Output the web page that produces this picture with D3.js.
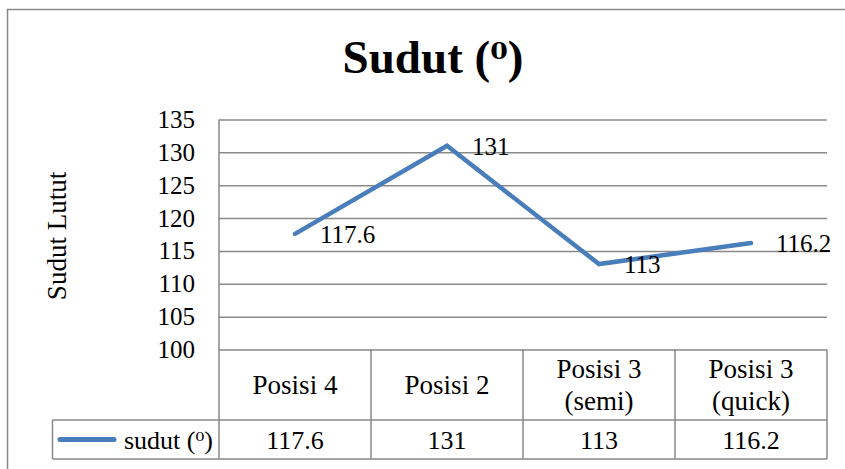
<!DOCTYPE html>
<html>
<head>
<meta charset="utf-8">
<script src="https://cdn.jsdelivr.net/npm/d3@7"></script>
<style>
  html, body { margin: 0; padding: 0; background: #fff; }
  svg text { font-family: "Liberation Serif", "Times New Roman", serif; fill: #000; }
  svg text tspan.sup { font-family: "DejaVu Serif", "Liberation Serif", serif; }
</style>
</head>
<body>
<svg id="chart" width="845" height="469"></svg>
<script>
// ---- data ----
const titleMain = "Sudut (";
const degreeSign = "\u2070";
const titleEnd = ")";
const yAxisTitle = "Sudut Lutut";
const seriesMain = "sudut (";
const categories = ["Posisi 4", "Posisi 2", "Posisi 3 (semi)", "Posisi 3 (quick)"];
const categoryLines = [["Posisi 4"], ["Posisi 2"], ["Posisi 3", "(semi)"], ["Posisi 3", "(quick)"]];
const values = [117.6, 131, 113, 116.2];
const valueLabels = ["117.6", "131", "113", "116.2"];
const yTicks = [100, 105, 110, 115, 120, 125, 130, 135];

// ---- layout ----
const svg = d3.select("#chart");
const plotLeft = 219, plotRight = 827, plotTop = 119.5, plotBottom = 349.5;
const headerBottom = 420, tableBottom = 459, legendLeft = 52.5;
const gridColor = "#898989";
const lineColor = "#4a7ebb";

const x = d3.scaleBand().domain(categories).range([plotLeft, plotRight]);
const y = d3.scaleLinear().domain([100, 135]).range([plotBottom, plotTop]);

// outer border
svg.append("rect")
  .attr("x", 7.5).attr("y", 9.5).attr("width", 845).attr("height", 470)
  .attr("fill", "none").attr("stroke", gridColor).attr("stroke-width", 1.5);

// title
const tTitle = svg.append("text")
  .attr("x", 433).attr("y", 73)
  .attr("text-anchor", "middle")
  .attr("font-size", 47).attr("font-weight", "bold");
tTitle.append("tspan").text(titleMain);
tTitle.append("tspan").attr("class", "sup").attr("font-size", 40).attr("dy", -1).text(degreeSign);
tTitle.append("tspan").attr("dy", 1).text(titleEnd);

// y axis title
svg.append("text")
  .attr("transform", "translate(57,236) rotate(-90)")
  .attr("text-anchor", "middle")
  .attr("dominant-baseline", "central")
  .attr("font-size", 27)
  .text(yAxisTitle);

// y axis with gridlines
const yAxis = d3.axisLeft(y).tickValues(yTicks).tickSize(-(plotRight - plotLeft)).tickPadding(24).tickFormat(d3.format("d"));
const gAxis = svg.append("g").attr("transform", `translate(${plotLeft},0)`).call(yAxis);
gAxis.select(".domain").remove();
gAxis.selectAll(".tick line").attr("stroke", gridColor).attr("stroke-width", 1.5);
gAxis.selectAll(".tick text").attr("font-size", 25);

// vertical axis line (plot + table left edge)
svg.append("line")
  .attr("x1", plotLeft).attr("x2", plotLeft)
  .attr("y1", plotTop).attr("y2", tableBottom)
  .attr("stroke", gridColor).attr("stroke-width", 1.5);

// table: column dividers
const colEdges = categories.map(c => x(c) + x.bandwidth());
svg.selectAll("line.col").data(colEdges).enter().append("line")
  .attr("class", "col")
  .attr("x1", d => d).attr("x2", d => d)
  .attr("y1", plotBottom).attr("y2", tableBottom)
  .attr("stroke", gridColor).attr("stroke-width", 1.5);

// table: horizontal lines
svg.append("line").attr("x1", legendLeft).attr("x2", plotRight)
  .attr("y1", headerBottom).attr("y2", headerBottom)
  .attr("stroke", gridColor).attr("stroke-width", 1.5);
svg.append("line").attr("x1", legendLeft).attr("x2", plotRight)
  .attr("y1", tableBottom).attr("y2", tableBottom)
  .attr("stroke", gridColor).attr("stroke-width", 1.5);
svg.append("line").attr("x1", legendLeft).attr("x2", legendLeft)
  .attr("y1", headerBottom).attr("y2", tableBottom)
  .attr("stroke", gridColor).attr("stroke-width", 1.5);

// table header text
const headerMid = (plotBottom + headerBottom) / 2;
const lineGap = 32;
categories.forEach((c, i) => {
  const lines = categoryLines[i];
  const t = svg.append("text")
    .attr("text-anchor", "middle")
    .attr("font-size", 27);
  lines.forEach((ln, j) => {
    t.append("tspan")
      .attr("x", x(c) + x.bandwidth() / 2)
      .attr("y", headerMid + (j - (lines.length - 1) / 2) * lineGap)
      .attr("dy", "0.35em")
      .text(ln);
  });
});

// table value row
const rowMid = (headerBottom + tableBottom) / 2;
svg.selectAll("text.val").data(categories).enter().append("text")
  .attr("class", "val")
  .attr("x", d => x(d) + x.bandwidth() / 2)
  .attr("y", rowMid).attr("dy", "0.35em")
  .attr("text-anchor", "middle").attr("font-size", 26)
  .text((d, i) => valueLabels[i]);

// legend key
svg.append("line")
  .attr("x1", 60).attr("x2", 114).attr("y1", rowMid).attr("y2", rowMid)
  .attr("stroke", lineColor).attr("stroke-width", 5).attr("stroke-linecap", "round");
const tLeg = svg.append("text")
  .attr("x", 213).attr("y", rowMid + 9)
  .attr("text-anchor", "end").attr("font-size", 26);
tLeg.append("tspan").text(seriesMain);
tLeg.append("tspan").attr("class", "sup").attr("font-size", 22).attr("dy", -1).text(degreeSign);
tLeg.append("tspan").attr("dy", 1).text(titleEnd);

// series line
const pts = categories.map((c, i) => [x(c) + x.bandwidth() / 2, y(values[i])]);
svg.append("path")
  .attr("d", d3.line()(pts))
  .attr("fill", "none").attr("stroke", lineColor)
  .attr("stroke-width", 4.5).attr("stroke-linejoin", "miter").attr("stroke-linecap", "round");

// data labels
svg.selectAll("text.lbl").data(pts).enter().append("text")
  .attr("class", "lbl")
  .attr("x", d => d[0] + 25).attr("y", d => d[1]).attr("dy", "0.35em")
  .attr("font-size", 25)
  .text((d, i) => valueLabels[i]);
</script>
</body>
</html>
